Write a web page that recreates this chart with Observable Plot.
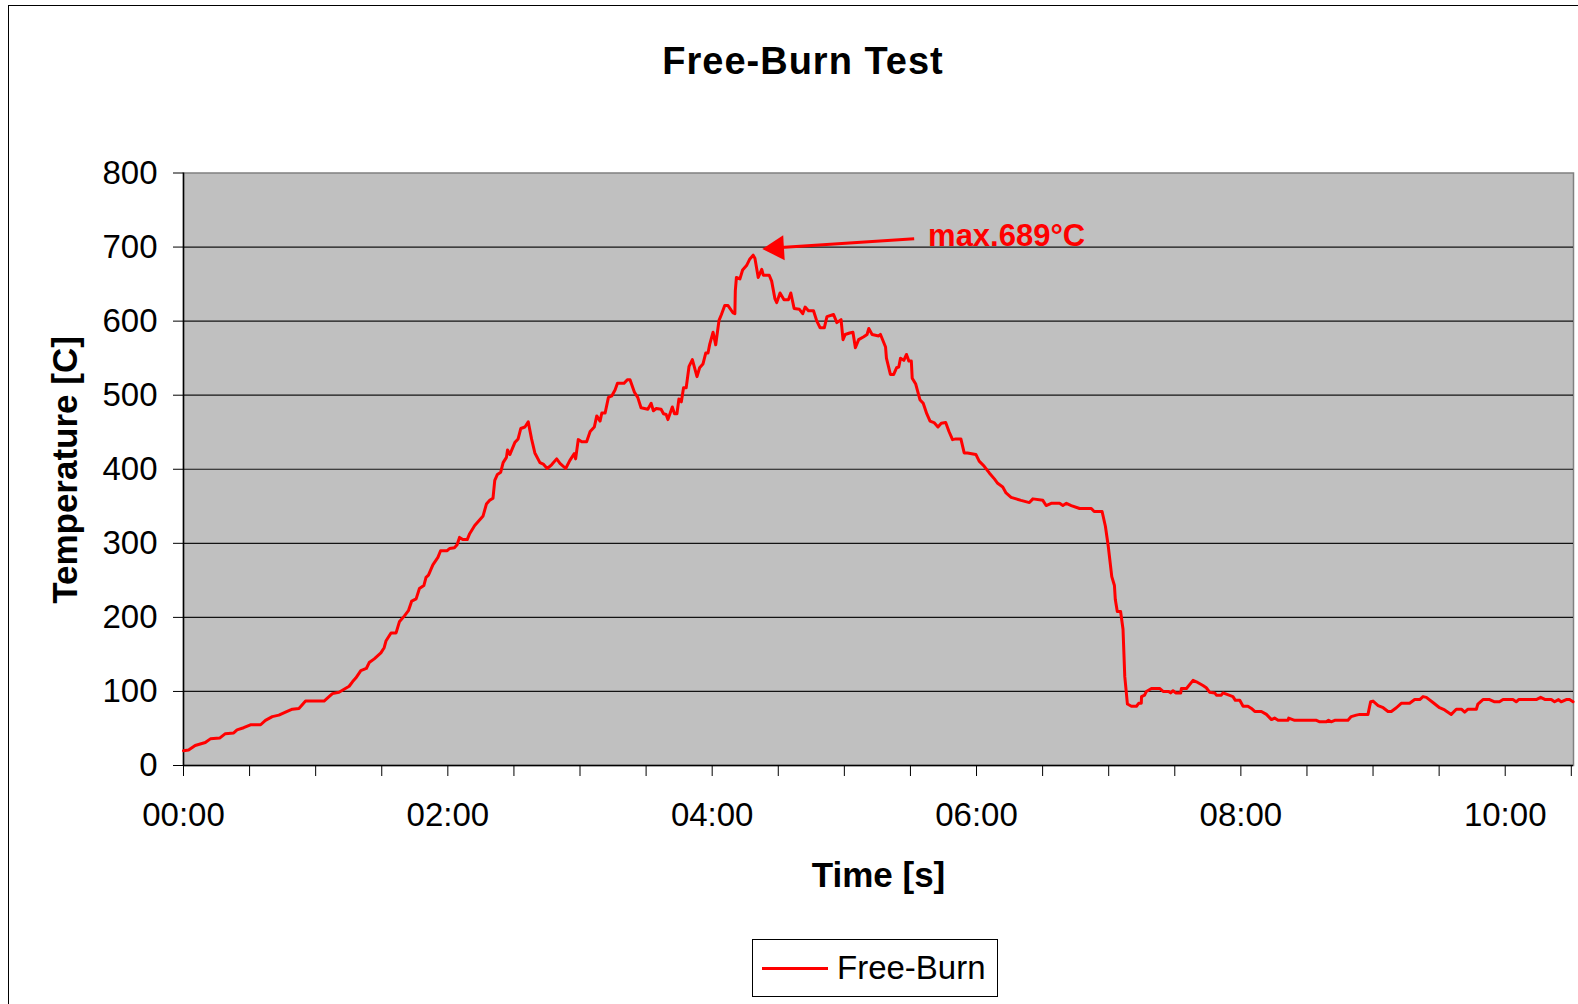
<!DOCTYPE html>
<html>
<head>
<meta charset="utf-8">
<script src="https://cdn.jsdelivr.net/npm/d3@7"></script>
<script src="https://cdn.jsdelivr.net/npm/@observablehq/plot@0.6"></script>
<style>
  html, body { margin: 0; padding: 0; background: #fff; overflow: hidden; }
  body { width: 1578px; height: 1004px; position: relative; font-family: "Liberation Sans", Arial, sans-serif; }
  #frame { position: absolute; left: 8px; top: 5px; width: 2000px; height: 2000px; border-top: 1.5px solid #000; border-left: 1.5px solid #000; }
  #chart { position: absolute; left: 0; top: 0; }
  #title { position: absolute; left: 803px; top: 42px; transform: translateX(-50%); font-size: 38px; line-height: 38px; font-weight: bold; letter-spacing: 1px; white-space: nowrap; color: #000; }
  #ylabel { position: absolute; left: 64px; top: 470px; transform: translate(-50%, -50%) rotate(-90deg); font-size: 35px; line-height: 35px; font-weight: bold; white-space: nowrap; color: #000; }
  #legend { position: absolute; left: 752px; top: 939px; width: 244px; height: 56px; border: 1.5px solid #000; background: #fff; }
  #legend .swatch { position: absolute; left: 9px; top: 27px; width: 66px; height: 2.7px; background: #ff0000; }
  #legend .lab { position: absolute; left: 84px; top: 11px; font-size: 33px; line-height: 33px; color: #000; white-space: nowrap; }
</style>
</head>
<body>
<div id="frame"></div>
<div id="chart"></div>
<div id="title">Free-Burn Test</div>
<div id="ylabel">Temperature [C]</div>
<div id="legend"><div class="swatch"></div><div class="lab">Free-Burn</div></div>
<script>
// ---- data (time in seconds, temperature in °C) ----
const seriesName = "Free-Burn";
const timeSec = [
  0,2.3,5.3,7.6,9.9,12.2,16.4,19,22.8,24.3,27.3,30.4,35,37.2,40.3,43.3,46.3,49.4,52.4,55.4,
  63.8,67.6,70.6,72.9,75.2,76.7,78.2,80.5,83,84.3,86.6,89.6,91.1,91.9,94.2,96.5,98,100.3,102.1,103.6,
  105.6,107.1,109.1,110.1,111.2,113.2,115.5,116.7,119.7,120.8,123,124.2,125.3,126.8,128.8,129.9,132.2,133.7,136,137.5,
  139,140.5,141.3,142.5,144,145.1,146.6,147.1,148.2,150.4,151.9,153.1,155,156.5,158,159.5,161.8,163.3,165.1,167.1,
  169.4,170.9,173.5,175.4,177.4,178,179.2,180.8,183,184.6,186.5,187.6,189.1,189.9,191.4,192.9,194.4,195.9,197,200,
  201.5,202.7,204.7,206.2,207.7,210.8,212.3,213.3,214.6,216.8,217.9,219.1,219.9,221.9,222.9,224,224.9,226,227,228.2,
  229.5,231,233.1,234.3,235.8,237.1,238.1,238.9,240.4,241.6,243.1,244.2,245.7,247.2,249.5,250.3,250.5,251,252.6,253.8,
  255.6,257.1,258.6,259.4,260.9,262.5,263.2,265.9,267,268.5,269.3,270.8,272.6,274.6,275.7,277.2,279.6,281.1,282.2,283.7,
  286,287.5,289,290.9,292.1,295.1,296.6,298.5,299.4,300.4,302.4,303.9,305,306.5,308.8,310.3,311.1,312.6,315.6,316.4,
  318.7,319.1,320.9,322.4,323.7,324.7,325.5,327,328.2,329.3,330.4,330.8,332.4,334.3,335.8,337.4,338.9,340.7,342.5,344,
  346,347.5,349.1,350.6,352.9,354.4,355.9,359.7,361.2,363.5,365.8,368.1,369.6,371.9,373.4,375.7,378,380.2,384,385.6,
  390.1,391.6,393.9,397.7,399.2,400.8,403,406.8,412.1,413.4,417,418.5,419.8,421.4,422.6,423,423.9,425.4,426.5,427.3,
  428.5,430.3,432.6,433.6,434.8,434.9,436.3,437.1,439.4,443.1,444.7,447.2,448.1,449.2,450.4,452.7,453,455.3,458.3,459.8,
  462.8,464.3,465.8,468.1,468.9,471.1,471.9,476.4,477.5,479.5,481,483.2,484.8,486.3,489.3,491.6,493.9,495.3,496.9,501.4,
  501.7,504.4,514.3,515.8,518.8,519.8,521,522.6,528.6,530.1,532.4,534,537.7,538.9,540,542.3,544.6,546.8,548.3,550.6,
  552.8,556.6,558.9,561.2,562.7,564.2,567.2,570.2,572.5,575.5,577.8,580.1,581.6,583.1,586.9,587.6,589.9,592.9,595.2,597.4,
  599,603.5,605,606.1,614.1,616.1,618.2,620.9,622.4,624.2,625.4,627.7,629.2,630.8
];
const tempC = [
  20,21,27,29,31,36,37,43,44,48,51,55,55,61,66,68,72,76,77,87,
  87,97,99,103,107,113,118,128,131,139,144,152,159,168,179,179,194,202,209,222,
  225,239,243,254,257,271,281,290,290,293,294,298,308,305,305,313,324,329,337,353,
  358,361,385,393,396,409,416,426,420,436,441,455,457,464,441,422,409,407,401,406,
  414,408,401,412,421,414,440,437,437,451,457,472,465,476,476,497,499,507,516,516,
  521,521,504,497,483,481,489,479,482,481,475,474,467,484,475,475,495,491,510,510,
  539,548,525,537,542,557,557,569,585,568,601,609,621,621,611,610,641,659,657,669,
  675,684,689,685,659,670,662,662,654,630,625,638,629,629,638,617,616,610,619,614,
  614,600,591,591,606,609,598,602,575,582,584,585,564,575,579,582,590,582,580,582,
  565,550,528,528,537,538,550,547,555,546,546,523,515,494,489,475,465,463,457,462,
  463,451,440,441,441,422,422,420,411,404,395,387,381,376,368,362,360,358,355,360,
  358,351,354,354,351,354,351,347,347,343,343,323,296,255,243,224,208,208,184,120,
  83,80,80,84,84,93,95,100,104,104,100,100,98,101,98,98,104,104,115,113,
  108,105,99,98,95,95,98,93,88,88,80,80,77,73,73,69,62,64,61,61,
  64,61,61,59,59,61,59,61,61,66,68,69,69,86,87,81,78,73,73,78,
  84,84,89,89,93,92,85,78,75,69,76,76,72,76,76,83,89,89,86,86,
  89,89,86,89,89,92,89,89,86,89,86,89,89,86
];
const yTicks = [0, 100, 200, 300, 400, 500, 600, 700, 800];
const xMinorTicks = d3.range(0, 631, 30);
const xLabelTicks = [0, 120, 240, 360, 480, 600];
const xDomain = [0, 631];
const yDomain = [0, 800];
// annotation (data units)
const annText = ["max.689°C"];
const annTextAt = [{t: 338, T: 715}];
const annArrow = [{t1: 331.7, T1: 711.2, t2: 266, T2: 698.5}];
const annHead = [{t: 269.3, T: 698.6}];

const data = timeSec.map((t, i) => ({t, T: tempC[i]}));
const fmt = d => `${String(Math.floor(d / 60)).padStart(2, "0")}:${String(d % 60).padStart(2, "0")}`;

const chart = Plot.plot({
  width: 1578,
  height: 910,
  marginLeft: 183,
  marginRight: 5,
  marginTop: 172.5,
  marginBottom: 145,
  style: {fontFamily: "'Liberation Sans', Arial, sans-serif", background: "transparent", color: "#000"},
  x: {domain: xDomain, label: null},
  y: {domain: yDomain, label: null},
  marks: [
    Plot.frame({fill: "#c0c0c0", stroke: "#808080", strokeWidth: 1.5}),
    Plot.gridY(yTicks.filter(d => d > 0 && d < 800), {stroke: "#000", strokeOpacity: 0.9, strokeWidth: 1.2}),
    Plot.ruleY([0], {stroke: "#000", strokeWidth: 1.5}),
    Plot.ruleX([0], {stroke: "#000", strokeWidth: 1.5}),
    Plot.axisY(yTicks, {tickSize: 10, tickPadding: 16, fontSize: 33, label: null, tickFormat: d => String(d)}),
    Plot.axisX(xMinorTicks, {tickSize: 11, tickFormat: () => "", label: null}),
    Plot.axisX(xLabelTicks, {tickSize: 0, tickPadding: 37.5, fontSize: 33, label: null, tickFormat: fmt}),
    Plot.text(["Time [s]"], {frameAnchor: "bottom", dy: 121, fontSize: 35, fontWeight: "bold"}),
    Plot.line(data, {x: "t", y: "T", stroke: "#ff0000", strokeWidth: 3, strokeLinejoin: "round"}),
    Plot.link(annArrow, {x1: "t1", y1: "T1", x2: "t2", y2: "T2", stroke: "#ff0000", strokeWidth: 3}),
    Plot.dot(annHead, {x: "t", y: "T", symbol: "triangle", r: 9.3, fill: "#ff0000", stroke: null, rotate: -93.5}),
    Plot.text(annText, {x: () => annTextAt[0].t, y: () => annTextAt[0].T, textAnchor: "start", fontSize: 31, fontWeight: "bold", fill: "#ff0000"})
  ]
});
document.getElementById("chart").appendChild(chart);
</script>
</body>
</html>
